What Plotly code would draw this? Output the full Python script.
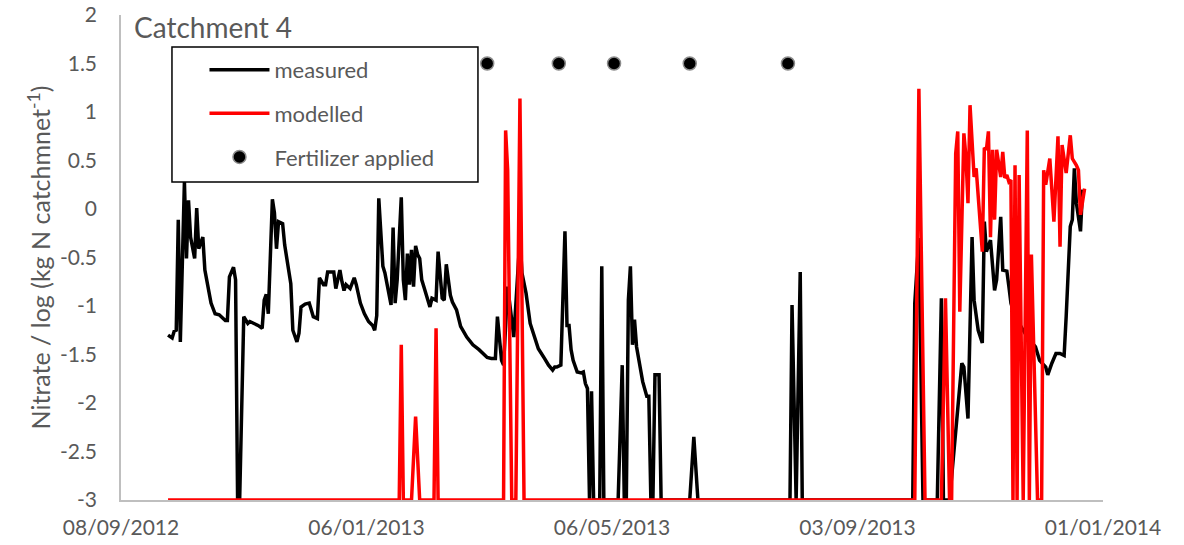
import pandas as pd
import plotly.graph_objects as go

start_date = "2012-09-08"

measured_day = [23,25,26,27,28,29,31,32,33,34,36,37,38,40,41,44,46,48,51,52,53,55,56,57,58,60,62,63,65,67,69,70,71,72,74,75,76,77,79,80,83,84,86,87,88,90,92,94,96,97,99,100,101,104,105,107,108,109,110,112,114,115,117,119,121,123,124,125,126,128,129,132,133,134,135,137,138,139,140,141,142,143,144,145,146,147,148,150,151,152,154,155,157,158,159,161,162,164,166,169,172,175,177,179,181,183,184,185,186,187,189,192,195,196,198,200,202,204,207,209,211,212,213,215,217,218,219,220,221,223,225,226,227,228,229,230,231,234,235,236,243,245,246,247,248,249,250,251,252,254,255,257,258,259,260,261,263,264,278,280,282,327,328,330,332,333,387,388,390,392,399,401,402,405,407,408,411,412,414,416,417,419,421,422,423,425,427,428,430,431,433,434,435,437,440,443,447,449,452,453,455,457,459,461,462,464,465,466,467,469,470]
measured_value = [-1.30,-1.33,-1.26,-1.25,-0.11,-1.37,0.28,-0.51,0.09,-0.29,-0.51,0.01,-0.41,-0.29,-0.63,-0.97,-1.08,-1.09,-1.15,-1.15,-0.70,-0.60,-0.73,-3,-3,-1.11,-1.18,-1.16,-1.18,-1.20,-1.23,-0.94,-0.88,-1.08,0.10,-0.04,-0.41,-0.13,-0.15,-0.37,-0.77,-1.25,-1.37,-1.28,-1.01,-0.98,-0.97,-1.11,-1.13,-0.71,-0.78,-0.78,-0.65,-0.65,-0.82,-0.63,-0.75,-0.84,-0.78,-0.82,-0.71,-0.78,-0.97,-1.08,-1.16,-1.20,-1.25,-1.10,0.11,-0.59,-0.66,-0.99,-0.19,-0.97,-0.73,0.12,-0.73,-0.94,-0.46,-0.78,-0.42,-0.80,-0.38,-0.47,-0.51,-0.73,-0.80,-0.94,-1.01,-0.92,-0.94,-0.44,-0.92,-0.94,-0.57,-0.89,-0.96,-1.04,-1.21,-1.32,-1.40,-1.45,-1.49,-1.53,-1.54,-1.54,-1.11,-1.32,-1.56,-1.61,-0.80,-1.32,-0.30,-0.66,-0.87,-1.18,-1.32,-1.44,-1.54,-1.61,-1.66,-1.63,-1.63,-1.61,-0.23,-1.20,-1.20,-1.45,-1.56,-1.68,-1.69,-1.68,-1.80,-1.85,-3,-1.88,-3,-3,-0.59,-3,-3,-1.61,-3,-3,-0.94,-0.59,-1.40,-1.14,-1.42,-1.68,-1.78,-1.93,-1.93,-3,-3,-1.71,-1.71,-3,-3,-2.35,-3,-3,-0.99,-3,-0.65,-3,-3,-0.97,-0.30,-3,-3,-0.92,-3,-3,-2.52,-2.28,-1.59,-1.63,-2.16,-0.29,-0.94,-1.25,-1.38,-0.13,-0.44,-0.32,-0.84,-0.73,-0.08,-0.63,-0.64,-0.80,-0.97,-1.11,-1.21,-1.32,-1.42,-1.56,-1.63,-1.71,-1.59,-1.49,-1.49,-1.51,-1.11,-0.18,-0.11,0.42,0.06,-0.23,0.20]

modelled_day = [23,136,137,138,142,144,146,153,154,155,187,188,189,191,193,195,197,388,390,393,401,403,405,406,408,409,410,412,413,414,415,417,418,421,422,423,424,425,426,427,428,430,431,432,433,434,435,436,437,438,439,441,443,444,445,448,450,451,452,454,455,456,458,459,460,462,464,465,467,468,469,470,471]
modelled_value = [-3,-3,-1.40,-3,-3,-2.14,-3,-3,-1.23,-3,-3,0.81,0.40,-3,-3,1.14,-3,-3,1.24,-3,-3,-0.92,-3,-3,0.57,0.80,-1.06,0.78,0.54,0.06,1.07,0.33,0.42,-0.44,0.63,0.61,0.80,-0.29,0.61,-0.11,0.61,0.33,0.59,0.32,0.35,0.28,0.30,-3,0.45,-3,0.35,-3,0.81,-3,-0.47,-3,-3,0.40,0.25,0.52,0.20,-0.13,0.75,-0.39,0.66,0.37,0.76,0.52,0.45,0.40,-0.06,0.11,0.21]

fert_day = [179, 214, 241, 278, 326]
fert_value = [1.5, 1.5, 1.5, 1.5, 1.5]

y_ticks = [2, 1.5, 1, 0.5, 0, -0.5, -1, -1.5, -2, -2.5, -3]
x_ticks = ["2012-09-08", "2013-01-06", "2013-05-06", "2013-09-03", "2014-01-01"]

t0 = pd.Timestamp(start_date)
to_dates = lambda days: [t0 + pd.Timedelta(days=d) for d in days]

GRAY = "#595959"
FONT = "Lato"

fig = go.Figure()
fig.add_trace(go.Scatter(x=to_dates(measured_day), y=measured_value, mode="lines",
                         name="measured", legendgroup="a",
                         line=dict(color="black", width=3.5)))
fig.add_trace(go.Scatter(x=to_dates(modelled_day), y=modelled_value, mode="lines",
                         name="modelled", legendgroup="b",
                         line=dict(color="#ff0000", width=3.5)))
fig.add_trace(go.Scatter(x=to_dates(fert_day), y=fert_value, mode="markers",
                         name="Fertilizer applied", legendgroup="c",
                         marker=dict(color="black", size=13,
                                     line=dict(color="#8c8c8c", width=1.5))))

fig.update_layout(
    width=1184, height=545,
    margin=dict(l=121, r=81, t=15, b=45, autoexpand=False),
    plot_bgcolor="white", paper_bgcolor="white",
    font=dict(family=FONT, color=GRAY, size=21),
    showlegend=True,
    legend=dict(x=0.085, y=0.93, xanchor="left", yanchor="top",
                bgcolor="rgba(0,0,0,0)", borderwidth=0,
                font=dict(size=22, color=GRAY, family=FONT),
                tracegroupgap=12, itemwidth=60),
    shapes=[dict(type="rect", xref="paper", yref="paper",
                 x0=0.0519, x1=0.3635, y0=0.6557, y1=0.934,
                 fillcolor="white", line=dict(color="black", width=1.5),
                 layer="above")],
    annotations=[dict(text="Catchment 4", xref="paper", yref="paper",
                      x=0.011, y=0.975, xanchor="left", yanchor="middle",
                      showarrow=False, font=dict(size=28, color=GRAY, family=FONT))],
)

fig.update_xaxes(
    type="date",
    range=[x_ticks[0], x_ticks[-1]],
    tickvals=x_ticks,
    tickformat="%d/%m/%Y",
    showgrid=False, zeroline=False,
    showline=True, linecolor="#bfbfbf", linewidth=1.5,
    ticks="", ticklabelstandoff=8, automargin=False,
    ticklabeloverflow="allow",
    tickfont=dict(size=21, color=GRAY, family=FONT),
)
fig.update_yaxes(
    range=[-3, 2],
    tickvals=y_ticks,
    ticktext=[f"{v:g}" for v in y_ticks],
    showgrid=False, zeroline=False,
    showline=True, linecolor="#bfbfbf", linewidth=1.5,
    ticks="", ticklabelstandoff=18, automargin=False,
    ticklabeloverflow="allow",
    tickfont=dict(size=21, color=GRAY, family=FONT),
    title=dict(text="Nitrate / log (kg N catchmnet<sup>-1</sup>)",
               font=dict(size=25, color=GRAY, family=FONT), standoff=2),
)

fig.write_html("out.html",
               config={"displayModeBar": False},
               post_script="document.body.style.margin='0px';")
